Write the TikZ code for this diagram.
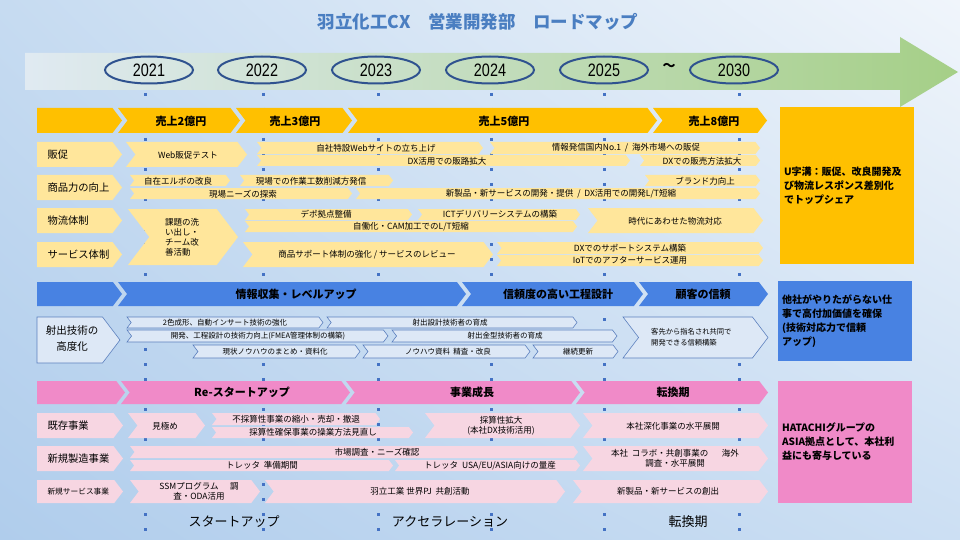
\documentclass[tikz,border=0pt]{standalone}
\usepackage{fontspec}
\setmainfont{Noto Sans CJK JP}
\newfontfamily\yearfont{Liberation Sans}[FakeStretch=0.8]
\usetikzlibrary{shapes.geometric,shadings}

\definecolor{bgUL}{RGB}{198,219,241}
\definecolor{bgLL}{RGB}{176,205,236}
\definecolor{bgUR}{RGB}{240,245,251}
\definecolor{bgLR}{RGB}{204,223,243}
\definecolor{tlL}{RGB}{224,234,242}
\definecolor{tlM}{RGB}{205,226,205}
\definecolor{tlR}{RGB}{165,207,135}
\definecolor{yhead}{RGB}{255,192,0}
\definecolor{yrow}{RGB}{255,230,155}
\definecolor{bhead}{RGB}{72,130,226}
\definecolor{brow}{RGB}{221,232,246}
\definecolor{bline}{RGB}{92,128,190}
\definecolor{phead}{RGB}{240,138,200}
\definecolor{prow}{RGB}{247,214,226}
\definecolor{yearline}{RGB}{47,82,143}
\definecolor{ttlblue}{RGB}{74,126,193}
\definecolor{dotblue}{RGB}{68,114,196}

% chevron bar: style, left x, tip x, top y, bottom y, notch (1) or flat (0)
\newcommand{\chev}[6]{%
  \pgfmathsetmacro{\chd}{0.38*(#5-#4)}%
  \pgfmathsetmacro{\chm}{(#4+#5)/2}%
  \path[#1] (#2,#4) -- ({#3-\chd},#4) -- (#3,\chm) -- ({#3-\chd},#5) -- (#2,#5) -- ({#2+#6*\chd},\chm) -- cycle;}

\begin{document}
\begin{tikzpicture}[x=1pt,y=-1pt,
  hd/.style={font=\bfseries\fontsize{11}{12}\selectfont},
  lab/.style={anchor=west,font=\fontsize{10.3}{12}\selectfont},
  tx/.style={font=\fontsize{8.5}{10}\selectfont,inner sep=0pt},
  txs/.style={font=\fontsize{7.5}{8}\selectfont,inner sep=0pt},
  yearov/.style={draw=yearline,line width=2pt,ellipse,minimum width=88pt,minimum height=27pt,inner sep=0pt,font=\yearfont\fontsize{18}{18}\selectfont},
  goal/.style={minimum width=134pt,text width=126pt,align=left,inner sep=0pt,font=\bfseries\fontsize{10}{14}\selectfont},
  phase/.style={font=\fontsize{13}{15}\selectfont}]
  \useasboundingbox (0,0) rectangle (960,540);
  \shade[upper left=bgUL,lower left=bgLL,upper right=bgUR,lower right=bgLR] (0,0) rectangle (960,540);

  \node[font=\bfseries\fontsize{17.5}{19}\selectfont,text=ttlblue] (ttl) at (478,22) {羽立化工CX　営業開発部　ロードマップ};

  % timeline
  \shade[left color=tlL,middle color=tlM,right color=tlR] (25,53) -- (900,53) -- (900,37) -- (958,72) -- (900,107) -- (900,90) -- (25,90) -- cycle;
  \foreach \dx in {145,263,378,491,604,739}
    \draw[dotblue,line width=3pt,dash pattern=on 3pt off 12pt] (\dx,93) -- (\dx,540);
  \foreach \nm/\x/\yy in {y21/149/2021,y22/262/2022,y23/376/2023,y24/490/2024,y25/604/2025,y30/734/2030}
    \node[yearov] (\nm) at (\x,70) {\yy};
  \node[font=\bfseries\fontsize{13}{14}\selectfont] (tilde) at (669,67) {～};

  % sales section
  \foreach \a/\b/\n in {37/122/0,118/240/1,236/352/1,348/657/1,653/767/1}
    \chev{fill=yhead}{\a}{\b}{108}{133}{\n};
  \node[hd] (s2) at (181,121) {売上2億円};
  \node[hd] (s3) at (295,121) {売上3億円};
  \node[hd] (s5) at (504,121) {売上5億円};
  \node[hd] (s8) at (714,121) {売上8億円};
  \foreach \c/\d in {142/167,175/200,208/233,242/267}
    \chev{fill=yrow}{37}{122}{\c}{\d}{0};
  \node[lab] (lSales) at (44,155) {販促};
  \node[lab] (lProd) at (44,188) {商品力の向上};
  \node[lab] (lLog) at (44,221) {物流体制};
  \node[lab] (lServ) at (44,255) {サービス体制};
  \foreach \a/\b/\c/\d in {126/247/142/167,257/483/142/154,490/760/142/154,257/630/155/166,640/760/155/166,
      130/230/175/186,240/393/175/186,645/760/175/186,130/352/188/199,356/760/188/199,
      128/238/209/265,245/412/209/220,418/580/209/220,245/577/221/232,588/763/208/233,
      243/493/242/267,497/763/242/254,497/763/255/266}
    \chev{fill=yrow}{\a}{\b}{\c}{\d}{1};
  \node[tx] (webtest) at (188,155) {Web販促テスト};
  \node[tx] (website) at (376,148) {自社特設Webサイトの立ち上げ};
  \node[tx] (no1) at (626,148) {情報発信国内No.1\ \ /\ \ 海外市場への販促};
  \node[tx] (dxch) at (447,161) {DX活用での販路拡大};
  \node[tx] (dxsell) at (702,161) {DXでの販売方法拡大};
  \node[tx] (elbow) at (178,181) {自在エルボの改良};
  \node[tx] (site) at (311,181) {現場での作業工数削減方発信};
  \node[tx] (brand) at (705,181) {ブランド力向上};
  \node[tx] (needs) at (243,194) {現場ニーズの探索};
  \node[tx] (newprod) at (561,194) {新製品・新サービスの開発・提供\ \ /\ \ DX活用での開発L/T短縮};
  \node[tx,anchor=west,align=left] (kaizen) at (165,237) {課題の洗\\い出し・\\チーム改\\善活動};
  \node[tx] (depot) at (326,214) {デポ拠点整備};
  \node[tx] (ict) at (500,214) {ICTデリバリーシステムの構築};
  \node[tx] (cam) at (411,227) {自働化・CAM加工でのL/T短縮};
  \node[tx] (era) at (675,221) {時代にあわせた物流対応};
  \node[tx] (support) at (367,255) {商品サポート体制の強化 / サービスのレビュー};
  \node[tx] (dxsup) at (630,248) {DXでのサポートシステム構築};
  \node[tx] (iot) at (630,260.5) {IoTでのアフターサービス運用};
  \node[goal,fill=yhead,minimum height=157pt] (gY) at (847,185.5) {U字溝：販促、改良開発及\\び物流レスポンス差別化\\でトップシェア};

  % technology section
  \foreach \a/\b/\n in {37/122/0,118/466/1,462/643/1,639/768/1}
    \chev{fill=bhead}{\a}{\b}{282}{306}{\n};
  \node[hd] (info) at (296,294) {情報収集・レベルアップ};
  \node[hd] (rel) at (558,294) {信頼度の高い工程設計};
  \node[hd] (trust) at (703,294) {顧客の信頼};
  \chev{fill=brow,draw=bline,line width=0.6pt}{37}{120}{317}{363}{0};
  \node[font=\fontsize{10.5}{16}\selectfont,align=center] (lTech) at (72,339) {射出技術の\\高度化};
  \foreach \a/\b/\c/\d in {127/323/317/328,327/577/317/328,127/388/330/342,392/617/330/342,
      193/360/345/358,363/530/345/358,533/618/345/358,623/768/317/358}
    \chev{fill=brow,draw=bline,line width=0.6pt}{\a}{\b}{\c}{\d}{1};
  \node[txs] (twocol) at (225,322.5) {2色成形、自動インサート技術の強化};
  \node[txs] (desgn) at (450,322.5) {射出設計技術者の育成};
  \node[txs] (fmea) at (258,336) {開発、工程設計の技術力向上(FMEA管理体制の構築)};
  \node[txs] (mold) at (505,336) {射出金型技術者の育成};
  \node[txs] (know) at (275,351.5) {現状ノウハウのまとめ・資料化};
  \node[txs] (refine) at (448,351.5) {ノウハウ資料\ \ 精査・改良};
  \node[txs] (upd) at (578,351.5) {継続更新};
  \node[txs,anchor=west,align=left,font=\fontsize{7.3}{10.5}\selectfont] (cotrust) at (651,337) {客先から指名され共同で\\開発できる信頼構築};
  \node[goal,fill=bhead,minimum height=80pt] (gB) at (845,321) {他社がやりたがらない仕\\事で高付加価値を確保\\(技術対応力で信頼\\アップ)};

  % business section
  \foreach \a/\b/\n in {37/125/0,121/350/1,346/580/1,576/768/1}
    \chev{fill=phead}{\a}{\b}{381}{404}{\n};
  \node[hd] (restart) at (242,392.5) {Re-スタートアップ};
  \node[hd] (grow) at (472,392.5) {事業成長};
  \node[hd] (shift) at (673,392.5) {転換期};
  \foreach \c/\d in {413/438,446/471,480/503}
    \chev{fill=prow}{37}{123}{\c}{\d}{0};
  \node[lab] (lExist) at (44,426) {既存事業};
  \node[lab] (lNew) at (44,458.5) {新規製造事業};
  \node[lab,font=\fontsize{7.7}{9}\selectfont] (lSvc) at (44,491.5) {新規サービス事業};
  \foreach \a/\b/\c/\d in {128/205/413/438,212/380/413/425,212/413/427/438,425/580/413/438,583/768/413/438,
      130/578/446/458,130/393/460/471,395/580/460/471,583/768/446/471,
      130/260/480/503,265/565/480/503,573/768/480/503}
    \chev{fill=prow}{\a}{\b}{\c}{\d}{1};
  \node[tx] (judge) at (165,426) {見極め};
  \node[tx] (shrink) at (296,419) {不採算性事業の縮小・売却・撤退};
  \node[tx] (review) at (313,432.5) {採算性確保事業の操業方法見直し};
  \node[tx,align=center] (profit) at (501,425.5) {採算性拡大\\(本社DX技術活用)};
  \node[tx] (deep) at (673,426) {本社深化事業の水平展開};
  \node[tx] (market) at (377,452) {市場調査・ニーズ確認};
  \node[tx] (prep) at (262,465.5) {トレッタ\ \ 準備期間};
  \node[tx] (mass) at (490,465.5) {トレッタ\ \ USA/EU/ASIA向けの量産};
  \node[tx,align=center] (collab) at (675,458.5) {本社\ \ コラボ・共創事業の\ \ \ \ \ \ \ 海外\\調査・水平展開};
  \node[tx,align=center] (ssm) at (199,491) {SSMプログラム\ \ \ \ \ \ 調\\査・ODA活用};
  \node[tx] (world) at (420,491.5) {羽立工業 世界PJ\ \ 共創活動};
  \node[tx] (create) at (668,491.5) {新製品・新サービスの創出};
  \node[goal,fill=phead,minimum height=122pt] (gP) at (845,442) {HATACHIグループの\\ASIA拠点として、本社利\\益にも寄与している};

  % phases
  \node[phase] (ph1) at (234,522) {スタートアップ};
  \node[phase] (ph2) at (450,522) {アクセラレーション};
  \node[phase] (ph3) at (688,522) {転換期};
\end{tikzpicture}
\end{document}
